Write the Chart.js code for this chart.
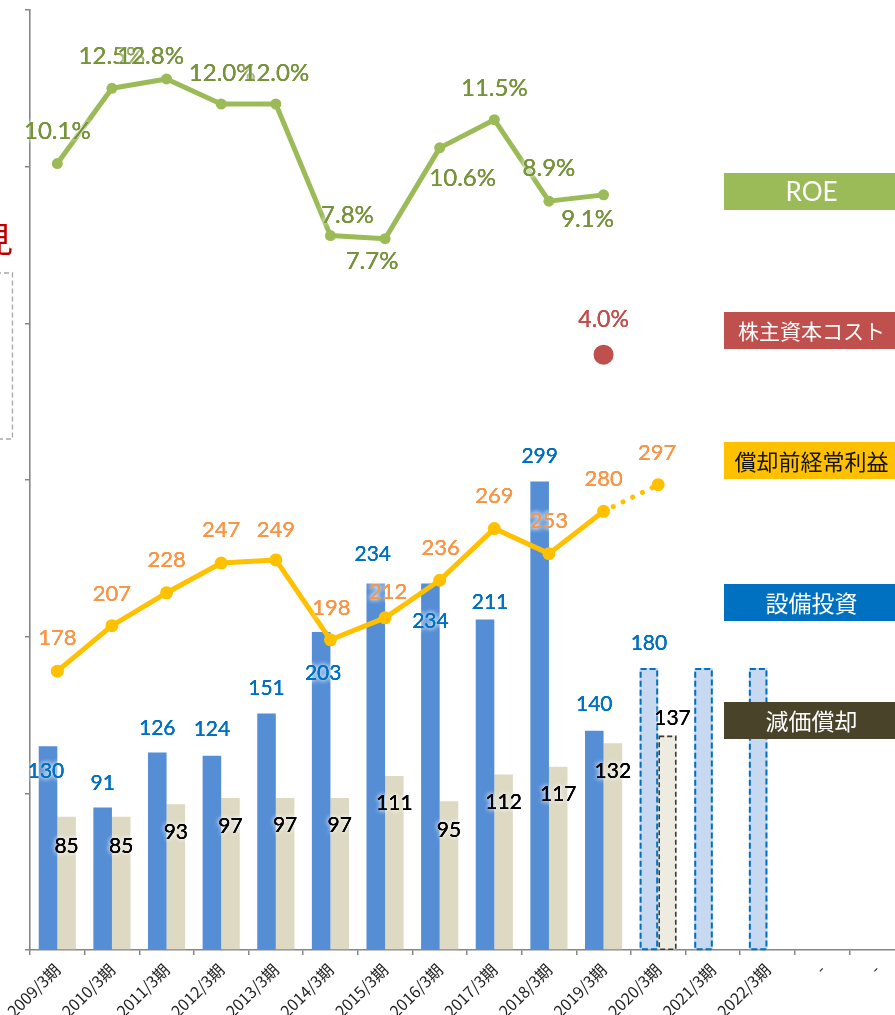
<!DOCTYPE html>
<html>
<head>
<meta charset="utf-8">
<script src="https://cdn.jsdelivr.net/npm/chart.js@4.4.1/dist/chart.umd.min.js"></script>
<style>
  html, body { margin: 0; padding: 0; background: #fff; overflow: hidden; }
  #wrap { width: 895px; height: 1015px; overflow: hidden; }
  canvas { display: block; }
</style>
</head>
<body>
<div id="wrap"><canvas id="roeChart" width="904" height="1015"></canvas></div>
<script>
/* fiscal periods on the x axis */
const periods = ["2009/3期", "2010/3期", "2011/3期", "2012/3期", "2013/3期", "2014/3期", "2015/3期",
  "2016/3期", "2017/3期", "2018/3期", "2019/3期", "2020/3期", "2021/3期", "2022/3期", "-", "-"];

/* ROE and cost of equity, % */
const roe = [10.1, 12.5, 12.8, 12.0, 12.0, 7.8, 7.7, 10.6, 11.5, 8.9, 9.1];
const equityCost = [null, null, null, null, null, null, null, null, null, null, 4.0];

/* ordinary profit before depreciation, capex, depreciation (億円) */
const profit = [178, 207, 228, 247, 249, 198, 212, 236, 269, 253, 280, 297];
const capex = [130, 91, 126, 124, 151, 203, 234, 234, 211, 299, 140, 180, 180, 180];
const depreciation = [85, 85, 93, 97, 97, 97, 111, 95, 112, 117, 132, 137];

// from this index on the figures are plans
const firstPlan = 11;

/* label placement, pixels relative to each point / bar top */
const roeLabelPos = [[0, -32], [0, -32], [-16, -23], [1, -31], [0, -31], [17, -20], [-13, 23], [23, 30], [0, -31], [0, -33], [-16, 24]];
const costLabelPos = [null, null, null, null, null, null, null, null, null, null, [0, -35]];
const profitLabelPos = [[0, -33], [0, -32], [0, -33], [0, -33], [0, -30], [1, -32], [3, -26], [1, -32], [0, -33], [0, -33], [0, -32], [-1, -32]];
const capexLabelPos = [[-2, 25], [0, -24], [0, -24], [0, -26], [0, -25], [2, 41], [-3, -29], [0, 38], [5, -17], [0, -25], [0, -26], [0, -25], null, null];
const deprLabelPos = [[0, 29], [0, 29], [0, 28], [0, 28], [0, 27], [0, 27], [0, 27], [0, 29], [0, 28], [0, 28], [0, 28], [5, -17]];

const NUM_FONT = "Lato, 'Noto Sans', sans-serif";
const JP_FONT = "'Noto Sans CJK JP', 'Noto Sans', sans-serif";

const planColor = (normal, plan) => (ctx) => ctx.dataIndex >= firstPlan ? plan : normal;

/* value labels with a soft white halo */
const valueLabels = {
  id: "valueLabels",
  afterDatasetsDraw(chart) {
    const ctx = chart.ctx;
    const specs = [
      { ds: 0, pos: roeLabelPos, color: "#77933C", size: 24, fmt: v => v.toFixed(1) + "%" },
      { ds: 1, pos: costLabelPos, color: "#C0504D", size: 23, fmt: v => v.toFixed(1) + "%" },
      { ds: 2, pos: profitLabelPos, color: "#F79646", size: 22, fmt: v => String(v) },
      { ds: 3, pos: capexLabelPos, color: "#0070C0", size: 21, fmt: v => String(v) },
      { ds: 4, pos: deprLabelPos, color: "#000000", size: 21, fmt: v => String(v) },
    ];
    ctx.save();
    ctx.textAlign = "center";
    ctx.textBaseline = "middle";
    specs.forEach(s => {
      const meta = chart.getDatasetMeta(s.ds);
      const values = chart.data.datasets[s.ds].data;
      ctx.font = s.size + "px " + NUM_FONT;
      meta.data.forEach((el, i) => {
        const v = values[i];
        const p = s.pos[i];
        if (v == null || !p) return;
        const x = el.x + p[0], y = el.y + p[1];
        ctx.shadowColor = "rgba(255,255,255,0.95)";
        ctx.shadowBlur = 5;
        ctx.fillStyle = s.color;
        ctx.fillText(s.fmt(v), x, y);
        ctx.fillText(s.fmt(v), x, y);
        ctx.shadowBlur = 0;
        ctx.fillText(s.fmt(v), x, y);
      });
    });
    ctx.restore();
  }
};

/* dashed outlines on the plan bars */
const planOutline = {
  id: "planOutline",
  afterDatasetDraw(chart, args) {
    const outline = { 3: "#0070C0", 4: "#3B3B2B" }[args.index];
    if (!outline) return;
    const ctx = chart.ctx;
    ctx.save();
    ctx.strokeStyle = outline;
    ctx.lineWidth = args.index === 3 ? 2 : 1.6;
    ctx.setLineDash(args.index === 3 ? [6, 3] : [5, 3]);
    args.meta.data.forEach((bar, i) => {
      if (i < firstPlan || bar.y == null || isNaN(bar.y)) return;
      const left = bar.x - bar.width / 2, top = bar.y;
      ctx.strokeRect(left + 1, top + 1, bar.width - 2, bar.base - top - 1);
    });
    ctx.restore();
  }
};

/* series name boxes on the right, plus the side notes */
const sideBoxes = {
  id: "sideBoxes",
  afterDraw(chart) {
    const ctx = chart.ctx;
    const boxes = [
      { text: "ROE", top: 173, fill: "#9BBB59", color: "#fff", font: "26px " + NUM_FONT },
      { text: "株主資本コスト", top: 312, fill: "#C0504D", color: "#fff", font: "21px " + JP_FONT },
      { text: "償却前経常利益", top: 442, fill: "#FFC000", color: "#111", font: "22px " + JP_FONT },
      { text: "設備投資", top: 584, fill: "#0070C0", color: "#fff", font: "23px " + JP_FONT },
      { text: "減価償却", top: 702, fill: "#494429", color: "#fff", font: "23px " + JP_FONT },
    ];
    ctx.save();
    boxes.forEach(b => {
      ctx.fillStyle = b.fill;
      ctx.fillRect(724, b.top, 180, 37);
      ctx.fillStyle = b.color;
      ctx.font = b.font;
      ctx.textAlign = "center";
      ctx.textBaseline = "middle";
      ctx.fillText(b.text, 811.5, b.top + 19.5);
    });

    ctx.fillStyle = "#C00000";
    ctx.font = "34px " + JP_FONT;
    ctx.textAlign = "right";
    ctx.textBaseline = "middle";
    ctx.fillText("見", 13, 239);

    ctx.strokeStyle = "#A6A6A6";
    ctx.lineWidth = 1.3;
    ctx.setLineDash([5, 3]);
    ctx.strokeRect(-20, 273, 32.5, 166);
    ctx.restore();
  }
};

const config = {
  type: "bar",
  data: {
    labels: periods,
    datasets: [
      {
        type: "line",
        label: "ROE",
        yAxisID: "yRoe",
        data: roe,
        borderColor: "#9BBB59",
        backgroundColor: "#9BBB59",
        borderWidth: 5,
        pointRadius: 5.5,
        pointBorderWidth: 0,
        borderJoinStyle: "round",
        order: 1,
      },
      {
        type: "line",
        label: "株主資本コスト",
        yAxisID: "yRoe",
        data: equityCost,
        showLine: false,
        backgroundColor: "#C0504D",
        borderColor: "#C0504D",
        pointRadius: 10,
        pointBorderWidth: 0,
        order: 2,
      },
      {
        type: "line",
        label: "償却前経常利益",
        yAxisID: "y",
        data: profit,
        borderColor: "#FFC000",
        backgroundColor: "#FFC000",
        borderWidth: 5,
        pointRadius: 6.5,
        pointBorderWidth: 0,
        borderJoinStyle: "round",
        borderCapStyle: "round",
        segment: {
          borderDash: ctx => ctx.p1DataIndex >= firstPlan ? [0.1, 10.7] : undefined,
        },
        order: 3,
      },
      {
        label: "設備投資",
        yAxisID: "y",
        data: capex,
        backgroundColor: planColor("#558ED5", "#C6D9F1"),
        borderWidth: 0,
        categoryPercentage: 0.68,
        barPercentage: 1,
        order: 10,
      },
      {
        label: "減価償却",
        yAxisID: "y",
        data: depreciation,
        backgroundColor: planColor("#DDD9C3", "#EEECE1"),
        borderWidth: 0,
        categoryPercentage: 0.68,
        barPercentage: 1,
        order: 10,
      },
    ],
  },
  options: {
    responsive: false,
    animation: false,
    devicePixelRatio: 1,
    layout: { autoPadding: false, padding: { top: 10, left: 0, right: 0, bottom: 0 } },
    scales: {
      x: {
        offset: true,
        grid: {
          offset: true,
          drawOnChartArea: false,
          drawTicks: true,
          tickLength: 5,
          color: "#868686",
          lineWidth: 1.5,
        },
        border: { color: "#868686", width: 1.6 },
        ticks: {
          autoSkip: false,
          minRotation: 45,
          maxRotation: 45,
          padding: 5,
          color: "#222",
          font: { family: JP_FONT, size: 16 },
        },
        afterFit(scale) {
          scale.height = 65;
          scale.paddingLeft = 0;
          scale.paddingRight = 0;
        },
      },
      y: {
        position: "left",
        min: 0,
        max: 600,
        ticks: { stepSize: 100, display: false },
        grid: {
          drawOnChartArea: false,
          drawTicks: true,
          tickLength: 5,
          color: "#868686",
          lineWidth: 1.5,
        },
        border: { color: "#868686", width: 1.6 },
        afterFit(scale) {
          scale.width = 30;
          scale.paddingTop = 0;
          scale.paddingBottom = 0;
        },
      },
      yRoe: {
        position: "right",
        display: false,
        min: -15,
        max: 15,
      },
    },
    plugins: {
      legend: { display: false },
      title: { display: false },
      tooltip: { enabled: false },
    },
  },
  plugins: [planOutline, valueLabels, sideBoxes],
};

new Chart(document.getElementById("roeChart"), config);
</script>
</body>
</html>
